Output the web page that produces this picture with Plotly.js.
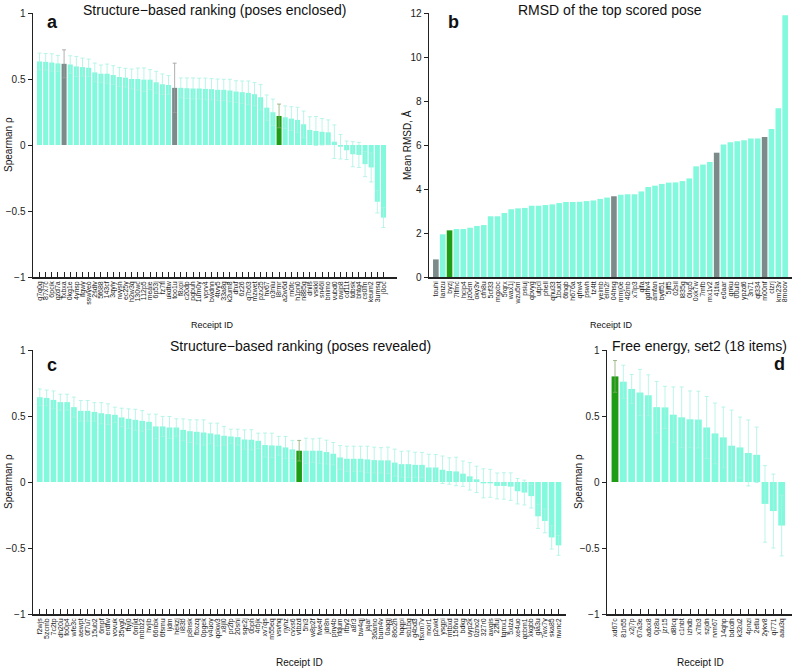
<!DOCTYPE html>
<html>
<head>
<meta charset="utf-8">
<script src="https://cdn.plot.ly/plotly-3.0.1.min.js"></script>
<style>
  html, body { margin: 0; padding: 0; background: #fff; }
  #graph1 { width: 793px; height: 668px; }
</style>
</head>
<body>
<div id="graph1"></div>
<script>
// panel a: structure-based ranking, poses enclosed
let labelsA = ['g7q0g','87x7c','6pcik','gzd7a','fxbxa','0kg1e','4ynsp','ifgwy','sswyeo','2sdlv',
  '5f688','143cf','3qyiy','rwysh','ec25y','h2w3q','130wc','112p5','meaie','6p53j',
  'fz7fl','ukdtw','too1u','f8xpi','c20dp','pgbuh','1um0y','vprv4','bwdnn','4tvy5',
  '33a8g','k2um8','dhxf','6z26','q7b63','mzwet','pzx25','hv67','o3nlu','l8rmr',
  'a2w6d','rn0fc','h1pn0','n885g','dnils','vskkl','sn46l','bnimo','vubd0','owjp8',
  'cd11t','tdbsk','bhtg4','cs0im','keum2','3umsq','j0oc'];
let rhoA = [0.633,0.630,0.625,0.618,0.615,0.610,0.595,0.590,0.585,0.550,
  0.540,0.540,0.530,0.515,0.510,0.500,0.500,0.495,0.495,0.475,
  0.460,0.455,0.433,0.433,0.430,0.428,0.428,0.425,0.423,0.418,
  0.418,0.413,0.405,0.400,0.395,0.385,0.362,0.283,0.248,0.220,
  0.210,0.200,0.190,0.157,0.114,0.106,0.100,0.096,0.025,-0.013,
  -0.040,-0.070,-0.075,-0.145,-0.170,-0.430,-0.550];
let errA = [0.063,0.063,0.066,0.061,0.106,0.066,0.076,0.068,0.066,0.071,
  0.066,0.073,0.071,0.073,0.071,0.076,0.083,0.089,0.076,0.083,
  0.078,0.071,0.187,0.075,0.078,0.080,0.078,0.082,0.080,0.082,
  0.080,0.085,0.082,0.085,0.090,0.088,0.095,0.096,0.100,0.090,
  0.086,0.090,0.096,0.100,0.100,0.110,0.100,0.094,0.127,0.093,
  0.070,0.095,0.095,0.095,0.110,0.085,0.075];
let grayA = [4, 22];
let greenA = [39];

// panel b: RMSD of the top scored pose
let labelsB = ['touhi','lanzu','byzj','7lfmc','hcip4','jz0em','oky3v','cfn8u','5cf33','mgxbc',
  '5rqrx','wax1j','wzu5m','psiuj','qbvyg','utpcl','phell','qhu33','1buot','6tnqb',
  'h676a','qfrw4','pswh','tz4tt','yeimb','elm2r','04hsg','mmj0e','4l2mb','x7lp3',
  'qlfa','gdhv4','amfan','bytf51','5jff5','02sil','l835g','0lxp5','0xk7w','7mfb',
  'mx1v2','41tia','e0aar','gnku','00uib','ypzd6','3n71','qt334','m00nf','clzrj',
  'km23v','8moov'];
let rmsdB = [0.80,1.94,2.12,2.18,2.18,2.24,2.32,2.36,2.76,2.76,
  2.91,3.08,3.12,3.14,3.24,3.24,3.27,3.30,3.36,3.41,
  3.41,3.42,3.45,3.48,3.55,3.61,3.67,3.74,3.76,3.76,
  3.89,4.09,4.15,4.23,4.29,4.30,4.36,4.48,5.03,5.11,
  5.23,5.65,6.02,6.13,6.17,6.22,6.30,6.30,6.36,6.73,
  7.67,11.90];
let grayB = [0, 26, 41, 48];
let greenB = [2];

// panel c: structure-based ranking, poses revealed
let labelsC = ['f2wjs','5zcmb','7c2tp','dh20u','fo0p4','wfe3c','aewpt','0f7u7','15ub2','6mpf',
  'erdfw','vovuk','35yg0','ftyj0','6mjkt','mbbz2','hvjib','66nbk','6fsmu','ljdm',
  'hekzj','ii83b','p8nsk','fbxzq','0pgek','v4uoy','qokw3','x8jl0','pr2fp','20shi',
  'sge2j','0bph','4rbjk','xv7qs','m55eq','vsvhq','rjyhz','cvxs6','vtbzd','5hi3',
  'w8p2f','fwe4f','jdr8n','pny4b','rfqum','ifby2','a8r3','bw4qj','jajar','36amo',
  'bum4v','0aqgj','86o2h','hqqpi','sb1bg','g4bd3','fsxm7v','moir1','p2wkt','ysgpi',
  'mtbxd','156vu','bdkg','uyp2k','0zno2','327r0','awgis','22fuj','tgmx1','5xlza',
  'xe4uo','qcbm1','xkgbb','gla3u','7wx7y','ska85','nwnc2'];
let rhoC = [0.642,0.637,0.622,0.605,0.605,0.567,0.539,0.539,0.531,0.521,
  0.514,0.509,0.489,0.479,0.471,0.463,0.456,0.421,0.421,0.413,
  0.413,0.395,0.385,0.380,0.375,0.368,0.360,0.350,0.345,0.340,
  0.322,0.320,0.312,0.280,0.277,0.275,0.262,0.247,0.237,0.237,
  0.237,0.237,0.227,0.214,0.186,0.176,0.176,0.176,0.171,0.166,
  0.164,0.164,0.147,0.135,0.135,0.130,0.130,0.110,0.110,0.093,
  0.083,0.080,0.063,0.043,0.020,-0.010,-0.010,-0.030,-0.030,-0.035,
  -0.070,-0.080,-0.107,-0.260,-0.295,-0.420,-0.480];
let errC = [0.063,0.060,0.068,0.060,0.060,0.076,0.078,0.078,0.070,0.080,
  0.078,0.058,0.070,0.075,0.080,0.078,0.058,0.093,0.076,0.083,
  0.066,0.083,0.086,0.091,0.096,0.078,0.086,0.071,0.055,0.060,
  0.073,0.076,0.058,0.091,0.093,0.071,0.083,0.068,0.078,0.095,
  0.090,0.095,0.090,0.085,0.090,0.095,0.095,0.095,0.100,0.098,
  0.096,0.100,0.102,0.098,0.100,0.096,0.094,0.100,0.098,0.104,
  0.100,0.108,0.096,0.104,0.100,0.110,0.106,0.098,0.100,0.104,
  0.096,0.094,0.090,0.092,0.090,0.088,0.075];
let greenC = [38];

// panel d: free energy, set2
let labelsD = ['xd67c','81n55','x2j7p','67a3e','adxx8','0jz8u','jzr15','d8lcq','c1nbt','izhdb',
  'x7lb3','szjdn','rvm67','14qhp','bdcdh','k32u2','4pnzi','2etlu','2ykv8','qi771','aau3q'];
let rhoD = [0.800,0.760,0.705,0.678,0.657,0.567,0.565,0.510,0.490,0.475,
  0.473,0.413,0.368,0.338,0.275,0.262,0.220,0.206,-0.166,-0.220,-0.330];
let errD = [0.120,0.125,0.110,0.175,0.155,0.195,0.160,0.210,0.230,0.215,
  0.215,0.235,0.230,0.230,0.270,0.230,0.250,0.210,0.290,0.280,0.230];
let greenD = [0];

let aqua = '#82f9dc';
let aquaErr = '#aaf2e3';
let gray = '#7d8a8a';
let green = '#1e9c14';
let font = 'Liberation Sans, Arial, Helvetica, sans-serif';

// pixel -> paper helpers
function px(x) { return x / 793; }
function py(y) { return 1 - y / 668; }

function pick(arr, idx) { return idx.map(i => arr[i]); }

function makeTraces(labels, vals, errs, grays, greens, xa, ya)
{
  let special = grays.concat(greens);
  let rest = [];
  for (let i = 0; i < labels.length; i++) if (special.indexOf(i) < 0) rest.push(i);
  let groups = [[rest, aqua, aquaErr], [grays, gray, '#9c9c9c'], [greens, green, '#88aa70']];
  let out = [];
  groups.forEach(g => {
    if (g[0].length === 0) return;
    let t = {
      type: 'bar',
      x: pick(labels, g[0]),
      y: pick(vals, g[0]),
      width: 0.82,
      marker: {color: g[1], line: {width: 0}},
      xaxis: xa, yaxis: ya,
      showlegend: false,
      hoverinfo: 'x+y'
    };
    if (errs) {
      t.error_y = {type: 'data', array: pick(errs, g[0]), visible: true,
                   color: g[2], thickness: 0.8, width: 2};
    }
    out.push(t);
  });
  return out;
}

let data = [].concat(
  makeTraces(labelsA, rhoA, errA, grayA, greenA, 'x', 'y'),
  makeTraces(labelsB, rmsdB, null, grayB, greenB, 'x2', 'y2'),
  makeTraces(labelsC, rhoC, errC, [], greenC, 'x3', 'y3'),
  makeTraces(labelsD, rhoD, errD, [], greenD, 'x4', 'y4')
);

function catAxis(labels, dom, rng, ticks)
{
  return {
    type: 'category', categoryorder: 'array', categoryarray: labels,
    tickmode: 'array', tickvals: labels, ticktext: labels,
    domain: dom, range: rng, tickangle: -90,
    tickfont: {family: font, size: 7, color: '#222'},
    ticks: ticks, ticklen: 5, tickwidth: 1, tickcolor: '#222',
    showline: true, linecolor: '#222', linewidth: 1.5,
    showgrid: false, zeroline: false, automargin: false, fixedrange: true
  };
}

function valAxis(dom, rng, dtick, anchor)
{
  return {
    domain: dom, range: rng, dtick: dtick, tick0: 0, anchor: anchor,
    ticks: 'outside', ticklen: 4, tickwidth: 1, tickcolor: '#222',
    tickfont: {family: font, size: 10, color: '#222'},
    showline: true, linecolor: '#222', linewidth: 1.5,
    showgrid: false, zeroline: false, automargin: false, fixedrange: true
  };
}

let rowTop = [py(277), py(13)];
let rowBot = [py(614), py(350)];

function note(text, x, y, size, extra)
{
  return Object.assign({
    text: text, xref: 'paper', yref: 'paper', x: px(x), y: py(y),
    xanchor: 'center', yanchor: 'middle', showarrow: false,
    font: {family: font, size: size, color: '#111'}
  }, extra || {});
}

var layout = {
  width: 793, height: 668,
  margin: {l: 0, r: 0, t: 0, b: 0},
  paper_bgcolor: '#fff', plot_bgcolor: '#fff',
  barmode: 'overlay',
  font: {family: font},
  xaxis: Object.assign(catAxis(labelsA, [px(33), px(397)], [-1.06, 58.2], 'inside'), {anchor: 'y'}),
  yaxis: valAxis(rowTop, [-1, 1], 0.5, 'x'),
  xaxis2: Object.assign(catAxis(labelsB, [px(429), px(792)], [-1.0, 52.0], ''), {anchor: 'y2'}),
  yaxis2: valAxis(rowTop, [0, 12], 2, 'x2'),
  xaxis3: Object.assign(catAxis(labelsC, [px(33), px(566)], [-1.0, 77.1], 'inside'), {anchor: 'y3'}),
  yaxis3: valAxis(rowBot, [-1, 1], 0.5, 'x3'),
  xaxis4: Object.assign(catAxis(labelsD, [px(607), px(792)], [-0.96, 21.24], 'inside'), {anchor: 'y4'}),
  yaxis4: valAxis(rowBot, [-1, 1], 0.5, 'x4'),
  annotations: [
    note('Structure\u2212based ranking (poses enclosed)', 214, 10, 14),
    note('RMSD of the top scored pose', 610, 10, 14),
    note('Structure\u2212based ranking (poses revealed)', 300, 346, 14),
    note('Free energy, set2 (18 items)', 699, 346, 14),
    note('<b>a</b>', 52, 22, 18),
    note('<b>b</b>', 453, 22, 18),
    note('<b>c</b>', 52, 365, 18),
    note('<b>d</b>', 779, 364, 18),
    note('Receipt ID', 212, 325, 9),
    note('Receipt ID', 611, 325, 9),
    note('Receipt ID', 299, 662, 10),
    note('Receipt ID', 700, 662, 10),
    note('Spearman \u03c1', 8, 145, 10, {textangle: -90}),
    note('Mean RMSD, \u00c5', 407, 145, 10, {textangle: -90}),
    note('Spearman \u03c1', 8, 482, 10, {textangle: -90}),
    note('Spearman \u03c1', 578, 482, 10, {textangle: -90})
  ]
};

Plotly.newPlot('graph1', data, layout, {staticPlot: true, displayModeBar: false});
</script>
</body>
</html>
